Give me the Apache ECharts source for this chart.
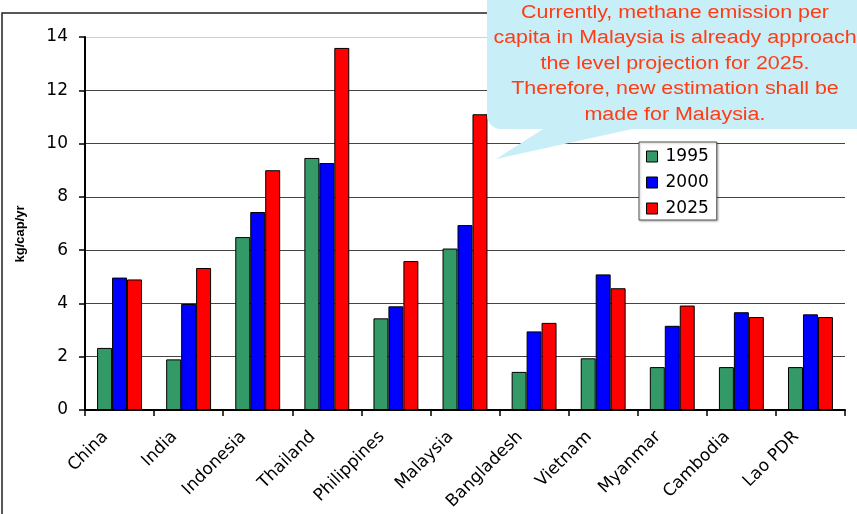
<!DOCTYPE html>
<html>
<head>
<meta charset="utf-8">
<script src="https://cdn.jsdelivr.net/npm/echarts@6/dist/echarts.min.js"></script>
<style>
  html, body { margin: 0; padding: 0; background: #fff; }
  #chart { width: 857px; height: 514px; }
</style>
</head>
<body>
<div id="chart"></div>
<script>
// Methane emission per capita (kg/cap/yr) by country
const countries = ['China', 'India', 'Indonesia', 'Thailand', 'Philippines', 'Malaysia',
                   'Bangladesh', 'Vietnam', 'Myanmar', 'Cambodia', 'Lao PDR'];
const years = ['1995', '2000', '2025'];
const values1995 = [2.33, 1.90, 6.49, 9.46, 3.44, 6.06, 1.43, 1.94, 1.61, 1.61, 1.61];
const values2000 = [4.97, 3.98, 7.43, 9.27, 3.89, 6.94, 2.95, 5.09, 3.16, 3.67, 3.59];
const values2025 = [4.90, 5.33, 9.00, 13.59, 5.59, 11.10, 3.27, 4.57, 3.92, 3.49, 3.49];
const yTicks = [0, 2, 4, 6, 8, 10, 12, 14];
const calloutLines = [
  'Currently, methane emission per',
  'capita in Malaysia is already approach',
  'the level projection for 2025.',
  'Therefore, new estimation shall be',
  'made for Malaysia.'
];

const FONT = '"Liberation Sans", Arial, Helvetica, sans-serif';
const WIDE_FONT = '"DejaVu Sans", Verdana, sans-serif';
const seriesColors = ['#339966', '#0000ff', '#ff0000'];
const seriesData = [values1995, values2000, values2025];

const chart = echarts.init(document.getElementById('chart'), null, { renderer: 'canvas' });

const option = {
  animation: false,
  backgroundColor: '#ffffff',
  textStyle: { fontFamily: WIDE_FONT },
  grid: { left: 85, right: 12, top: 37, bottom: 104, containLabel: false },
  legend: {
    orient: 'vertical',
    left: 639,
    top: 142,
    data: years,
    icon: 'rect',
    itemWidth: 11,
    itemHeight: 11,
    itemGap: 9,
    padding: [6, 8, 3, 7],
    backgroundColor: '#ffffff',
    borderColor: '#555555',
    borderWidth: 1,
    shadowColor: 'rgba(0,0,0,0.25)',
    shadowBlur: 2,
    shadowOffsetX: 1,
    shadowOffsetY: 1,
    itemStyle: { borderColor: '#000', borderWidth: 1 },
    textStyle: { fontFamily: WIDE_FONT, fontSize: 17, lineHeight: 17, color: '#000', padding: [0, 0, 0, 3] },
    z: 20
  },
  xAxis: {
    type: 'category',
    data: countries,
    axisLine: { lineStyle: { color: '#000', width: 2 } },
    axisTick: { show: true, alignWithLabel: false, length: 6, lineStyle: { color: '#000', width: 1.5 } },
    axisLabel: {
      rotate: 45, fontSize: 17, color: '#000', fontFamily: WIDE_FONT,
      margin: 10, interval: 0, padding: [0, 20, 0, 0]
    },
    splitLine: { show: false }
  },
  yAxis: {
    type: 'value',
    min: yTicks[0],
    max: yTicks[yTicks.length - 1],
    interval: 2,
    axisLine: { show: true, lineStyle: { color: '#000', width: 2 } },
    axisTick: { show: true, length: 6, lineStyle: { color: '#000', width: 1.5 } },
    axisLabel: { fontSize: 17, color: '#000', fontFamily: WIDE_FONT, margin: 17 },
    splitLine: {
      show: true,
      lineStyle: {
        color: ['#444', '#444', '#444', '#444', '#444', '#444', '#444', '#d0d0d0'],
        width: 1
      }
    }
  },
  series: years.map((y, i) => ({
    name: y,
    type: 'bar',
    data: seriesData[i],
    barGap: '0%',
    barCategoryGap: '35%',
    itemStyle: { color: seriesColors[i], borderColor: '#000', borderWidth: 1 },
    z: 5
  })),
  graphic: [
    // outer frame of the chart area
    {
      type: 'rect',
      shape: { x: 2, y: 13, width: 900, height: 600 },
      style: { fill: 'none', stroke: '#222', lineWidth: 1.5 },
      z: 1
    },
    // vertical axis title
    {
      type: 'text',
      x: 20,
      y: 234,
      rotation: Math.PI / 2,
      style: {
        text: 'kg/cap/yr',
        font: 'bold 13px ' + FONT,
        fill: '#000',
        align: 'center',
        verticalAlign: 'middle'
      },
      z: 10
    },
    // callout bubble
    {
      type: 'rect',
      shape: { x: 487, y: -20, width: 400, height: 149, r: 14 },
      style: { fill: '#c8eef8' },
      z: 30
    },
    {
      type: 'polygon',
      shape: { points: [[548, 126], [646, 126], [496, 159]] },
      style: { fill: '#c8eef8' },
      z: 30
    },
    {
      type: 'text',
      x: 675,
      y: 0,
      scaleX: 1.19,
      style: {
        text: calloutLines.join('\n'),
        font: '18px ' + FONT,
        fill: '#ff3c14',
        align: 'center',
        verticalAlign: 'top',
        lineHeight: 25.5
      },
      z: 31
    }
  ]
};

chart.setOption(option);
</script>
</body>
</html>
